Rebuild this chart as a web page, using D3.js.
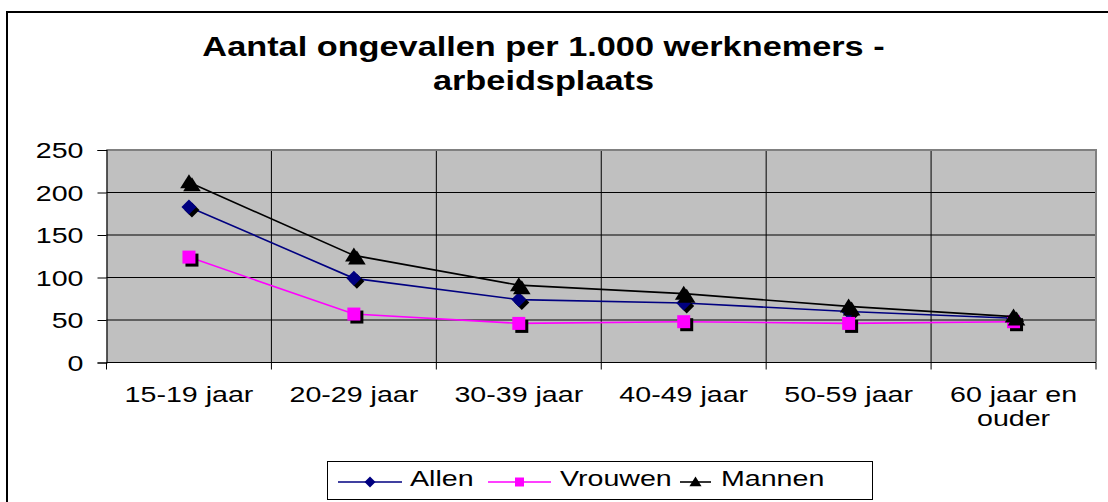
<!DOCTYPE html>
<html>
<head>
<meta charset="utf-8">
<script src="https://cdn.jsdelivr.net/npm/d3@7"></script>
<style>
  html, body { margin: 0; padding: 0; background: #fff; overflow: hidden; }
  svg { display: block; }
  text { font-family: "Liberation Sans", Arial, Helvetica, sans-serif; fill: #000; }
</style>
</head>
<body>
<svg id="chart" width="1108" height="502"></svg>
<script>
// ---- data ----
const categories = ["15-19 jaar", "20-29 jaar", "30-39 jaar", "40-49 jaar", "50-59 jaar", "60 jaar en ouder"];
const categoryLines = [["15-19 jaar"], ["20-29 jaar"], ["30-39 jaar"], ["40-49 jaar"], ["50-59 jaar"], ["60 jaar en", "ouder"]];
const allen   = [183, 99, 74, 70, 60, 52];
const vrouwen = [124, 57, 46, 48, 46, 48];
const mannen  = [212, 126, 91, 81, 66, 54];
const seriesNames = ["Allen", "Vrouwen", "Mannen"];
const yTicks = [0, 50, 100, 150, 200, 250];
const titleLines = ["Aantal ongevallen per 1.000 werknemers -", "arbeidsplaats"];

// ---- layout ----
const W = 1108, H = 502;
const plot = { left: 106.5, right: 1096, top: 150, bottom: 362.5 };
const SX = 1.3; // horizontal stretch of the text

const svg = d3.select("#chart");

// outer chart border
svg.append("rect")
  .attr("x", 7).attr("y", 12).attr("width", W + 20).attr("height", H + 20)
  .attr("fill", "#fff").attr("stroke", "#000").attr("stroke-width", 2);

// title
const title = svg.append("g");
titleLines.forEach((t, i) => {
  title.append("text")
    .attr("transform", `translate(543.5, ${56 + i * 34}) scale(1.27,1)`)
    .attr("text-anchor", "middle")
    .attr("font-weight", "bold")
    .attr("font-size", 27)
    .text(t);
});

// scales
const x = d3.scaleBand().domain(categories).range([plot.left, plot.right]).padding(0);
const y = d3.scaleLinear().domain([0, 250]).range([plot.bottom, plot.top]);

// plot background
svg.append("rect")
  .attr("x", plot.left).attr("y", plot.top)
  .attr("width", plot.right - plot.left).attr("height", plot.bottom - plot.top)
  .attr("fill", "#C0C0C0");

// horizontal gridlines
svg.append("g").selectAll("line").data(yTicks).join("line")
  .attr("x1", plot.left).attr("x2", plot.right)
  .attr("y1", d => y(d)).attr("y2", d => y(d))
  .attr("stroke", "#000").attr("stroke-width", 1);

// vertical gridlines at category boundaries (+ ticks below axis)
const bounds = categories.map(c => x(c)).concat([x(categories[categories.length - 1]) + x.bandwidth()]);
svg.append("g").selectAll("line").data(bounds.slice(1, -1)).join("line")
  .attr("x1", d => d).attr("x2", d => d)
  .attr("y1", plot.top).attr("y2", plot.bottom + 7)
  .attr("stroke", "#000").attr("stroke-width", 1);
svg.append("g").selectAll("line").data([bounds[0], bounds[bounds.length - 1]]).join("line")
  .attr("x1", d => d).attr("x2", d => d)
  .attr("y1", plot.bottom).attr("y2", plot.bottom + 7)
  .attr("stroke", "#000").attr("stroke-width", 1);

// plot border (gray top/right)
svg.append("path")
  .attr("d", `M${plot.left},${plot.top}H${plot.right}V${plot.bottom}`)
  .attr("fill", "none").attr("stroke", "#808080").attr("stroke-width", 2);

// y axis
const yAxis = svg.append("g")
  .attr("transform", `translate(${plot.left},0)`)
  .call(d3.axisLeft(y).tickValues(yTicks).tickSize(9).tickPadding(0).tickFormat(d => d));
yAxis.select(".domain").attr("stroke", "#000").attr("stroke-width", 1.2);
yAxis.selectAll(".tick line").attr("stroke", "#000");
yAxis.selectAll(".tick text")
  .attr("x", null).attr("dy", "0.36em")
  .attr("text-anchor", "end")
  .attr("font-size", 22)
  .attr("font-family", null)
  .attr("transform", `translate(-23,0) scale(${SX},1)`);

// x axis line
svg.append("line")
  .attr("x1", plot.left).attr("x2", plot.right)
  .attr("y1", plot.bottom).attr("y2", plot.bottom)
  .attr("stroke", "#000").attr("stroke-width", 1.2);

// x labels
const xl = svg.append("g");
categories.forEach((c, i) => {
  categoryLines[i].forEach((ln, j) => {
    xl.append("text")
      .attr("transform", `translate(${x(c) + x.bandwidth() / 2}, ${402 + j * 24}) scale(${SX},1)`)
      .attr("text-anchor", "middle")
      .attr("font-size", 22)
      .text(ln);
  });
});

// series
const series = [
  { name: seriesNames[0], values: allen,   color: "#000080", marker: "diamond" },
  { name: seriesNames[1], values: vrouwen, color: "#FF00FF", marker: "square" },
  { name: seriesNames[2], values: mannen,  color: "#000000", marker: "triangle" }
];

function markerPath(type, s) {
  if (type === "diamond") return `M0,${-s}L${s},0L0,${s}L${-s},0Z`;
  if (type === "square") return `M${-s},${-s}H${s}V${s}H${-s}Z`;
  return `M0,${-s}L${s * 1.1},${s * 0.75}L${-s * 1.1},${s * 0.75}Z`;
}
const markerSize = { diamond: 7.5, square: 6.5, triangle: 8 };

const line = d3.line().x((d, i) => x(categories[i]) + x.bandwidth() / 2).y(d => y(d));

series.forEach(s => {
  const g = svg.append("g");
  g.append("path").datum(s.values)
    .attr("d", line)
    .attr("fill", "none").attr("stroke", s.color).attr("stroke-width", 1.6);
  // shadows
  g.selectAll(".shadow").data(s.values).join("path")
    .attr("class", "shadow")
    .attr("transform", (d, i) => `translate(${x(categories[i]) + x.bandwidth() / 2 + 3},${y(d) + 3})`)
    .attr("d", markerPath(s.marker, markerSize[s.marker]))
    .attr("fill", "#000");
  g.selectAll(".mk").data(s.values).join("path")
    .attr("class", "mk")
    .attr("transform", (d, i) => `translate(${x(categories[i]) + x.bandwidth() / 2},${y(d)})`)
    .attr("d", markerPath(s.marker, markerSize[s.marker]))
    .attr("fill", s.color);
});

// legend
const leg = svg.append("g");
leg.append("rect")
  .attr("x", 327.5).attr("y", 461.5).attr("width", 545).attr("height", 38)
  .attr("fill", "#fff").attr("stroke", "#000").attr("stroke-width", 1);
const legItems = [
  { x0: 338, x1: 402, tx: 410 },
  { x0: 488, x1: 551, tx: 560 },
  { x0: 680, x1: 711, tx: 721 }
];
const legSize = { diamond: 5.5, square: 4.5, triangle: 5.5 };
series.forEach((s, i) => {
  const it = legItems[i];
  const ly = 482;
  leg.append("line")
    .attr("x1", it.x0).attr("x2", it.x1).attr("y1", ly).attr("y2", ly)
    .attr("stroke", s.color).attr("stroke-width", 1.6);
  leg.append("path")
    .attr("transform", `translate(${(it.x0 + it.x1) / 2},${ly})`)
    .attr("d", markerPath(s.marker, legSize[s.marker]))
    .attr("fill", s.color);
  leg.append("text")
    .attr("transform", `translate(${it.tx},486) scale(${SX},1)`)
    .attr("font-size", 22)
    .text(s.name);
});
</script>
</body>
</html>
